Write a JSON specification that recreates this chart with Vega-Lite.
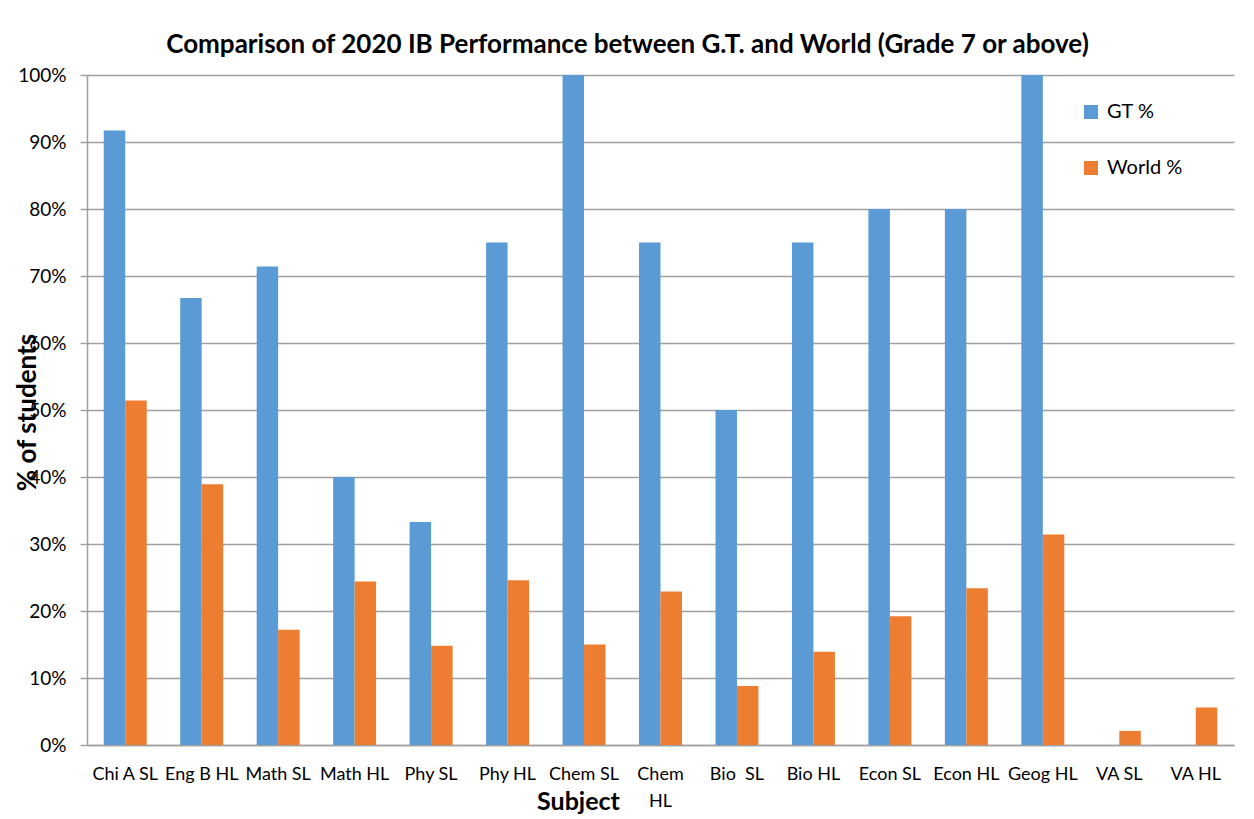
{
  "$schema": "https://vega.github.io/schema/vega-lite/v6.json",
  "autosize": {"type": "none"},
  "width": 1147,
  "height": 670,
  "padding": {"left": 87, "top": 75, "right": 20, "bottom": 74},
  "background": "white",
  "title": {
    "text": "Comparison of 2020 IB Performance between G.T. and World (Grade 7 or above)",
    "font": "Lato",
    "fontSize": 26,
    "fontWeight": "bold",
    "color": "#000000",
    "anchor": "middle",
    "dx": -33,
    "offset": 8
  },
  "data": {
    "values": [
      {"subject": "Chi A SL", "series": "GT %", "value": 91.7},
      {"subject": "Chi A SL", "series": "World %", "value": 51.4},
      {"subject": "Eng B HL", "series": "GT %", "value": 66.7},
      {"subject": "Eng B HL", "series": "World %", "value": 38.9},
      {"subject": "Math SL", "series": "GT %", "value": 71.4},
      {"subject": "Math SL", "series": "World %", "value": 17.2},
      {"subject": "Math HL", "series": "GT %", "value": 40.0},
      {"subject": "Math HL", "series": "World %", "value": 24.4},
      {"subject": "Phy SL", "series": "GT %", "value": 33.3},
      {"subject": "Phy SL", "series": "World %", "value": 14.8},
      {"subject": "Phy HL", "series": "GT %", "value": 75.0},
      {"subject": "Phy HL", "series": "World %", "value": 24.6},
      {"subject": "Chem SL", "series": "GT %", "value": 100.0},
      {"subject": "Chem SL", "series": "World %", "value": 15.0},
      {"subject": "Chem HL", "series": "GT %", "value": 75.0},
      {"subject": "Chem HL", "series": "World %", "value": 22.9},
      {"subject": "Bio  SL", "series": "GT %", "value": 50.0},
      {"subject": "Bio  SL", "series": "World %", "value": 8.8},
      {"subject": "Bio HL", "series": "GT %", "value": 75.0},
      {"subject": "Bio HL", "series": "World %", "value": 13.9},
      {"subject": "Econ SL", "series": "GT %", "value": 80.0},
      {"subject": "Econ SL", "series": "World %", "value": 19.2},
      {"subject": "Econ HL", "series": "GT %", "value": 80.0},
      {"subject": "Econ HL", "series": "World %", "value": 23.4},
      {"subject": "Geog HL", "series": "GT %", "value": 100.0},
      {"subject": "Geog HL", "series": "World %", "value": 31.4},
      {"subject": "VA SL", "series": "GT %", "value": 0},
      {"subject": "VA SL", "series": "World %", "value": 2.1},
      {"subject": "VA HL", "series": "GT %", "value": 0},
      {"subject": "VA HL", "series": "World %", "value": 5.6}
    ]
  },
  "mark": {"type": "bar"},
  "encoding": {
    "x": {
      "field": "subject",
      "type": "nominal",
      "sort": null,
      "scale": {"paddingInner": 0.438, "paddingOuter": 0.219},
      "axis": {
        "title": "Subject",
        "titleFont": "Lato",
        "titleFontSize": 25,
        "titleFontWeight": "bold",
        "titleColor": "#000000",
        "titleX": 491,
        "titleY": 56,
        "titleBaseline": "middle",
        "labelAngle": 0,
        "labelFont": "Lato",
        "labelFontSize": 18,
        "labelColor": "#000000",
        "labelPadding": 34,
        "labelLineHeight": 27,
        "labelBaseline": "alphabetic",
        "labelExpr": "datum.value == 'Chem HL' ? ['Chem', 'HL'] : replace(datum.value, '  ', '\u00a0 ')",
        "ticks": false,
        "domainColor": "#a0a0a0",
        "domainWidth": 1.5,
        "grid": false
      }
    },
    "xOffset": {"field": "series", "type": "nominal", "sort": ["GT %", "World %"]},
    "y": {
      "field": "value",
      "type": "quantitative",
      "scale": {"domain": [0, 100], "nice": false},
      "axis": {
        "title": "% of students",
        "titleFont": "Lato",
        "titleFontSize": 26,
        "titleFontWeight": "bold",
        "titleColor": "#000000",
        "titleX": -60,
        "titleY": 337,
        "titleAlign": "center",
        "titleBaseline": "middle",
        "titleAngle": -90,
        "values": [0, 10, 20, 30, 40, 50, 60, 70, 80, 90, 100],
        "labelExpr": "datum.value + '%'",
        "labelFont": "Lato",
        "labelFontSize": 19,
        "labelColor": "#000000",
        "labelPadding": 14,
        "tickSize": 7,
        "tickColor": "#a0a0a0",
        "tickWidth": 1.5,
        "domainColor": "#a0a0a0",
        "domainWidth": 1.5,
        "grid": true,
        "gridColor": "#a0a0a0",
        "gridWidth": 1.5
      }
    },
    "color": {
      "field": "series",
      "type": "nominal",
      "scale": {"domain": ["GT %", "World %"], "range": ["#5B9BD5", "#ED7D31"]},
      "legend": {
        "title": null,
        "orient": "none",
        "legendX": 994,
        "legendY": 27,
        "symbolType": "square",
        "symbolSize": 196,
        "symbolStrokeWidth": 0,
        "labelFont": "Lato",
        "labelFontSize": 20,
        "labelColor": "#000000",
        "labelOffset": 6,
        "rowPadding": 36
      }
    }
  },
  "config": {
    "view": {"stroke": null}
  }
}
